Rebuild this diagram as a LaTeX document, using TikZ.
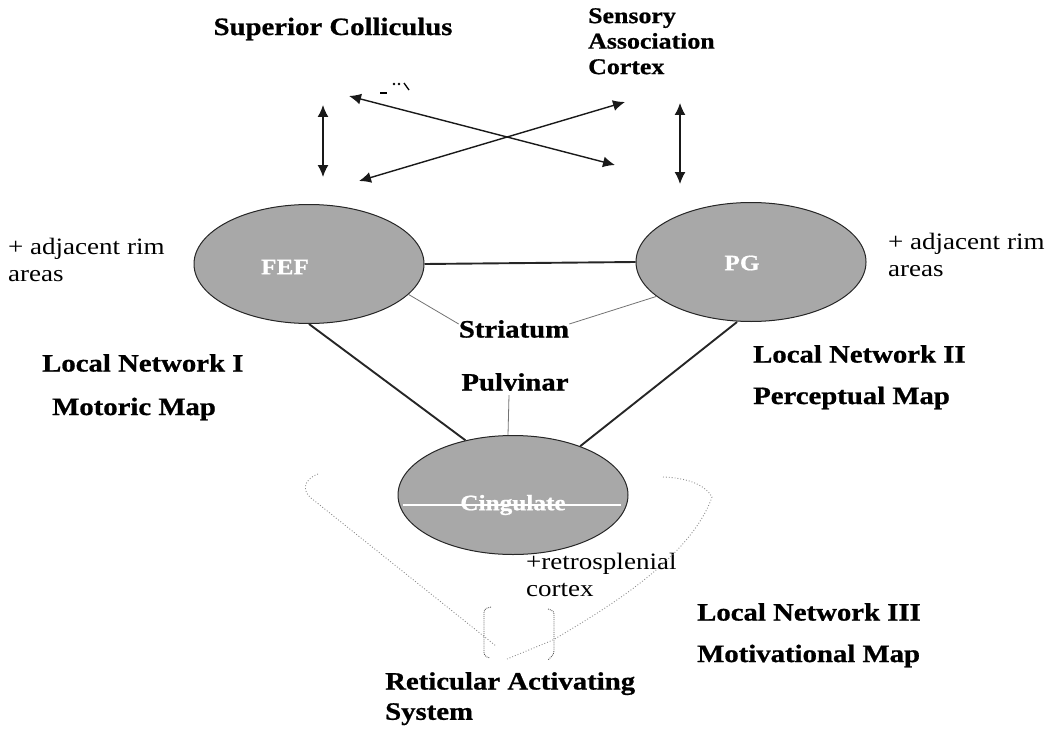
\documentclass[tikz,border=0pt]{standalone}
\usepackage{fontspec}
\setmainfont{Liberation Serif}[FakeStretch=1.15, BoldFeatures={FakeBold=0.8}]
\usetikzlibrary{shapes.geometric,arrows.meta}

\begin{document}
\begin{tikzpicture}[x=1pt,y=-1pt,
  region/.style={ellipse, draw=black!85, line width=1pt, fill=black!34,
                 inner sep=0pt, minimum width=230pt, minimum height=119pt},
  lbl/.style={font=\fontsize{25}{30}\selectfont\bfseries, inner sep=0pt},
  smalllbl/.style={font=\fontsize{22.5}{25.5}\selectfont\bfseries, inner sep=0pt, align=left},
  txt/.style={font=\fontsize{23.5}{27}\selectfont, inner sep=0pt, align=left},
  inlbl/.style={font=\fontsize{22}{24}\selectfont\bfseries, text=white, inner sep=0pt},
  link/.style={line width=1.9pt, black!85},
  faint/.style={line width=0.8pt, black!55},
  dots/.style={line width=0.9pt, black!45, dotted},
  brk/.style={line width=0.9pt, black!65, densely dotted, rounded corners=3pt},
  dbl/.style={line width=1.4pt, black!90,
              {Latex[length=12pt,width=11pt]}-{Latex[length=12pt,width=11pt]}}
]
\useasboundingbox (0,0) rectangle (1051,733);

% --- the three cortical regions ---
\node[region] (FEF)  at (309,264) {};
\node[region] (PG)   at (751,262) {};
\node[region] (Cing) at (513,495) {};

% white stroke through the cingulate region
\draw[white, line width=1.8pt] ([xshift=5pt,yshift=-10pt]Cing.west) -- ([xshift=-8pt,yshift=-10pt]Cing.east);

\node[inlbl] (FEFt)  at (285,267) {FEF};
\node[inlbl] (PGt)   at (742,263) {PG};
\node[inlbl] (Cingt) at (513,505) {Cingulate};

% --- main links between regions ---
\draw[link] (FEF.east) -- (PG.west);
\draw[link] (FEF.south) -- (Cing.131);
\draw[link] ([xshift=-14pt]PG.south) -- (Cing.36);

% --- subcortical labels ---
\node[lbl] (Striatum) at (514,329) {Striatum};
\node[lbl] (Pulvinar) at (515,382) {Pulvinar};
\draw[faint] (FEF.-17) -- ([yshift=5pt]Striatum.west);
\draw[faint] ([yshift=5pt]Striatum.east) -- (PG.200);
\draw[faint] ([xshift=-6pt,yshift=-4pt]Pulvinar.south) -- ([xshift=-5pt]Cing.north);

% --- top labels and reciprocal arrows ---
\node[lbl] (SC) at (333,29) {Superior Colliculus};
\node[smalllbl, anchor=north west] (SAC) at (588,8) {Sensory\\Association\\Cortex};

\coordinate (aL1) at (323,105);
\coordinate (aL2) at (323,177);
\coordinate (aR1) at (680,103);
\coordinate (aR2) at (680,184);
\coordinate (x1a) at (349,96);
\coordinate (x1b) at (615,165);
\coordinate (x2a) at (359,181);
\coordinate (x2b) at (625,102);
\draw[dbl] (aL1) -- (aL2);
\draw[dbl] (aR1) -- (aR2);
\draw[dbl] (x1a) -- (x1b);
\draw[dbl] (x2a) -- (x2b);

% small stray marks above the crossing arrows
\draw[line width=1.4pt] (380,93) -- (387,93);
\fill (394,84) circle (1.4pt);
\fill (399,84) circle (1.4pt);
\draw[line width=1.3pt] (404,83) -- (409,90);

% --- side annotations ---
\node[txt, anchor=west] (rimL) at (8,260) {+ adjacent rim\\areas};
\node[txt, anchor=west] (rimR) at (888,255) {+ adjacent rim\\areas};

\node[lbl, anchor=west] (LN1) at (42,363) {Local Network I};
\node[lbl, anchor=west] (MM)  at (52,409) {Motoric Map};
\node[lbl, anchor=west] (LN2) at (753,354) {Local Network II};
\node[lbl, anchor=west] (PM)  at (753,398) {Perceptual Map};
\node[lbl, anchor=west] (LN3) at (697,612) {Local Network III};
\node[lbl, anchor=west] (MoM) at (697,656) {Motivational Map};

\node[txt, anchor=north west] (retro) at (526,553) {+retrosplenial\\cortex};

% --- funnel towards the reticular activating system ---
\coordinate (fL0) at (318,474);
\coordinate (fL1) at (311,498);
\coordinate (fL2) at (496,646);
\coordinate (fR0) at (663,477);
\coordinate (fR1) at (712,497);
\coordinate (fR2) at (553,640);
\coordinate (fR3) at (507,659);
\draw[dots] (fL0) .. controls (302,480) and (303,492) .. (fL1) -- (fL2);
\draw[dots] (fR0) .. controls (690,478) and (706,486) .. (fR1)
            .. controls (690,560) and (600,612) .. (fR2) -- (fR3);

\coordinate (bL1) at (491,607);
\coordinate (bL2) at (484,609);
\coordinate (bL3) at (484,656);
\coordinate (bL4) at (490,658);
\coordinate (bR1) at (548,609);
\coordinate (bR2) at (554,611);
\coordinate (bR3) at (554,654);
\coordinate (bR4) at (548,660);
\draw[brk] (bL1) -- (bL2) -- (bL3) -- (bL4);
\draw[brk] (bR1) -- (bR2) -- (bR3) -- (bR4);

\node[lbl, anchor=north west] (RAS) at (385,672) {Reticular Activating};
\node[lbl, anchor=north west] (Sys) at (385,703) {System};
\end{tikzpicture}
\end{document}
